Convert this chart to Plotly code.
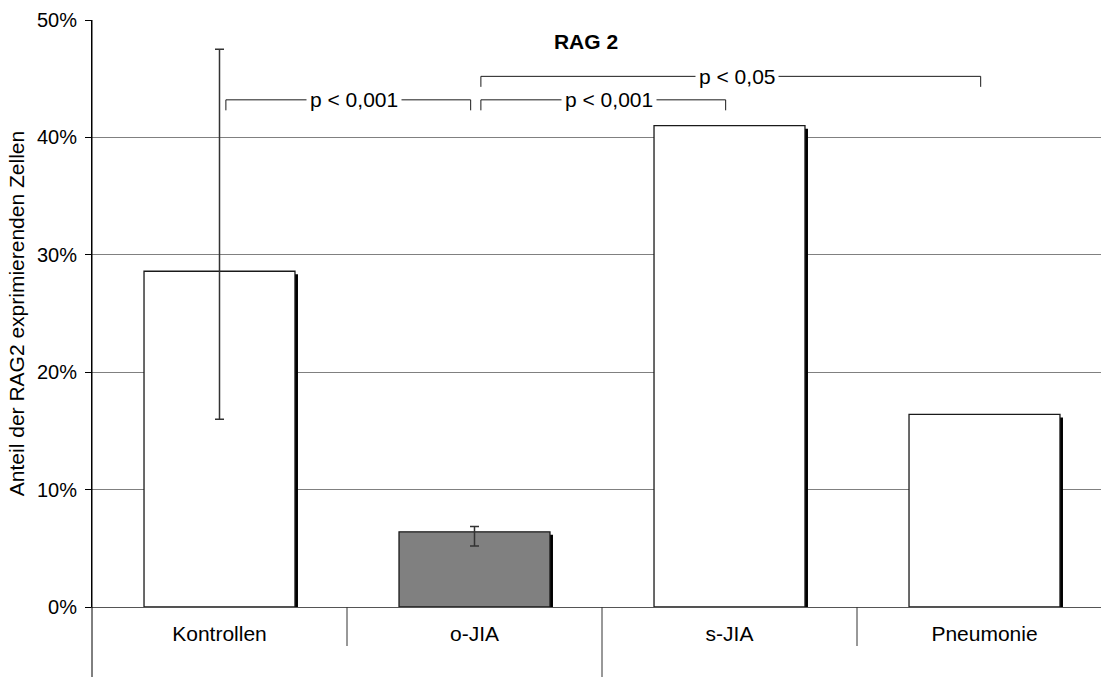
import plotly.graph_objects as go

# ---------------- data ----------------
categories = ["Kontrollen", "o-JIA", "s-JIA", "Pneumonie"]
values = [28.6, 6.4, 41.0, 16.4]                 # percent
err_plus = [18.9, 0.45, None, None]
err_minus = [12.6, 1.2, None, None]
bar_colors = ["#ffffff", "#808080", "#ffffff", "#ffffff"]

y_ticks = [0, 10, 20, 30, 40, 50]
y_tick_labels = ["0%", "10%", "20%", "30%", "40%", "50%"]

# significance comparisons: (from category index, to category index, label, level in %)
comparisons = [
    (0, 1, "p < 0,001", 43.2),
    (1, 2, "p < 0,001", 43.2),
    (1, 3, "p < 0,05", 45.2),
]

# ---------------- layout constants ----------------
W, H = 1101, 677
ML, MR, MT, MB = 92, 0, 20, 70
plot_w = W - ML - MR
plot_h = H - MT - MB
px_per_cat = 255.0
x_min = -0.5
x_max = x_min + plot_w / px_per_cat
y_min, y_max = 0, 50
px_per_pct = plot_h / (y_max - y_min)

FONT = "Liberation Sans, Arial, sans-serif"
FS = 21
FS_Y = 20

bar_w = 0.592
shadow_dx = 3 / px_per_cat
shadow_dy = 3 / px_per_pct

xs = list(range(len(categories)))

fig = go.Figure()

# shadow bars (drawn first, behind)
fig.add_trace(go.Bar(
    x=xs,
    y=[v - shadow_dy for v in values],
    width=bar_w,
    offset=-bar_w / 2 + shadow_dx,
    marker=dict(color="#000000", line=dict(width=0)),
    hoverinfo="skip",
    showlegend=False,
))

# main bars
fig.add_trace(go.Bar(
    x=xs,
    y=values,
    width=bar_w,
    offset=-bar_w / 2,
    marker=dict(color=bar_colors, line=dict(color="#1a1a1a", width=1.3)),
    showlegend=False,
))

# error bars only where available
idx = [k for k in xs if err_plus[k] is not None]
fig.add_trace(go.Scatter(
    x=idx,
    y=[values[k] for k in idx],
    mode="markers",
    marker=dict(size=1, opacity=0),
    error_y=dict(type="data", symmetric=False,
                 array=[err_plus[k] for k in idx],
                 arrayminus=[err_minus[k] for k in idx],
                 color="#333333", thickness=1.5, width=4.5),
    hoverinfo="skip",
    showlegend=False,
))

shapes = []
annotations = []

# significance brackets
tick_drop = 10.5 / px_per_pct
for (i, j, label, lvl) in comparisons:
    x0 = i + 0.025
    x1 = j - 0.015
    shapes.append(dict(type="path", xref="x", yref="y",
                       path=f"M {x0},{lvl - tick_drop} L {x0},{lvl} L {x1},{lvl} L {x1},{lvl - tick_drop}",
                       line=dict(color="#1a1a1a", width=1)))
    annotations.append(dict(x=(x0 + x1) / 2, y=lvl, xref="x", yref="y", text=label,
                            showarrow=False, xshift=6, bgcolor="#ffffff", borderpad=3,
                            font=dict(family=FONT, size=FS, color="#000000"),
                            xanchor="center", yanchor="middle"))

# axis extension lines below the plot (category dividers)
def xp(v):
    return (v - x_min) / (x_max - x_min)

below_full = -MB / plot_h
below_short = -39 / plot_h
shapes.append(dict(type="line", xref="paper", yref="paper", x0=0, x1=0, y0=below_full, y1=1,
                   line=dict(color="#000000", width=1)))
for k in range(len(categories) - 1):
    b = k + 0.5
    y0 = below_full if k == 1 else below_short
    shapes.append(dict(type="line", xref="paper", yref="paper", x0=xp(b), x1=xp(b),
                       y0=y0, y1=0, line=dict(color="#333333", width=1)))

fig.update_layout(
    width=W, height=H,
    margin=dict(l=ML, r=MR, t=MT, b=MB, pad=0),
    paper_bgcolor="#ffffff", plot_bgcolor="#ffffff",
    barmode="overlay",
    font=dict(family=FONT, size=FS, color="#000000"),
    title=dict(text="<b>RAG 2</b>", x=586 / W, y=1 - 42 / H, xanchor="center", yanchor="middle",
               font=dict(family=FONT, size=FS, color="#000000")),
    xaxis=dict(range=[x_min, x_max], tickmode="array",
               tickvals=xs, ticktext=categories,
               showgrid=False, zeroline=False, showline=True, linecolor="#555555", linewidth=1,
               ticks="", ticklabelstandoff=8,
               tickfont=dict(family=FONT, size=FS, color="#000000")),
    yaxis=dict(range=[y_min, y_max], tickmode="array", tickvals=y_ticks, ticktext=y_tick_labels,
               showgrid=True, gridcolor="#808080", gridwidth=1, zeroline=False,
               showline=True, linecolor="#000000", linewidth=1,
               ticks="outside", ticklen=6, tickcolor="#000000", tickwidth=1,
               ticklabelstandoff=4,
               tickfont=dict(family=FONT, size=FS_Y, color="#000000"),
               title=dict(text="Anteil der RAG2 exprimierenden Zellen", standoff=6,
                          font=dict(family=FONT, size=FS, color="#000000"))),
    shapes=shapes,
    annotations=annotations,
)

fig.write_html("out.html")
